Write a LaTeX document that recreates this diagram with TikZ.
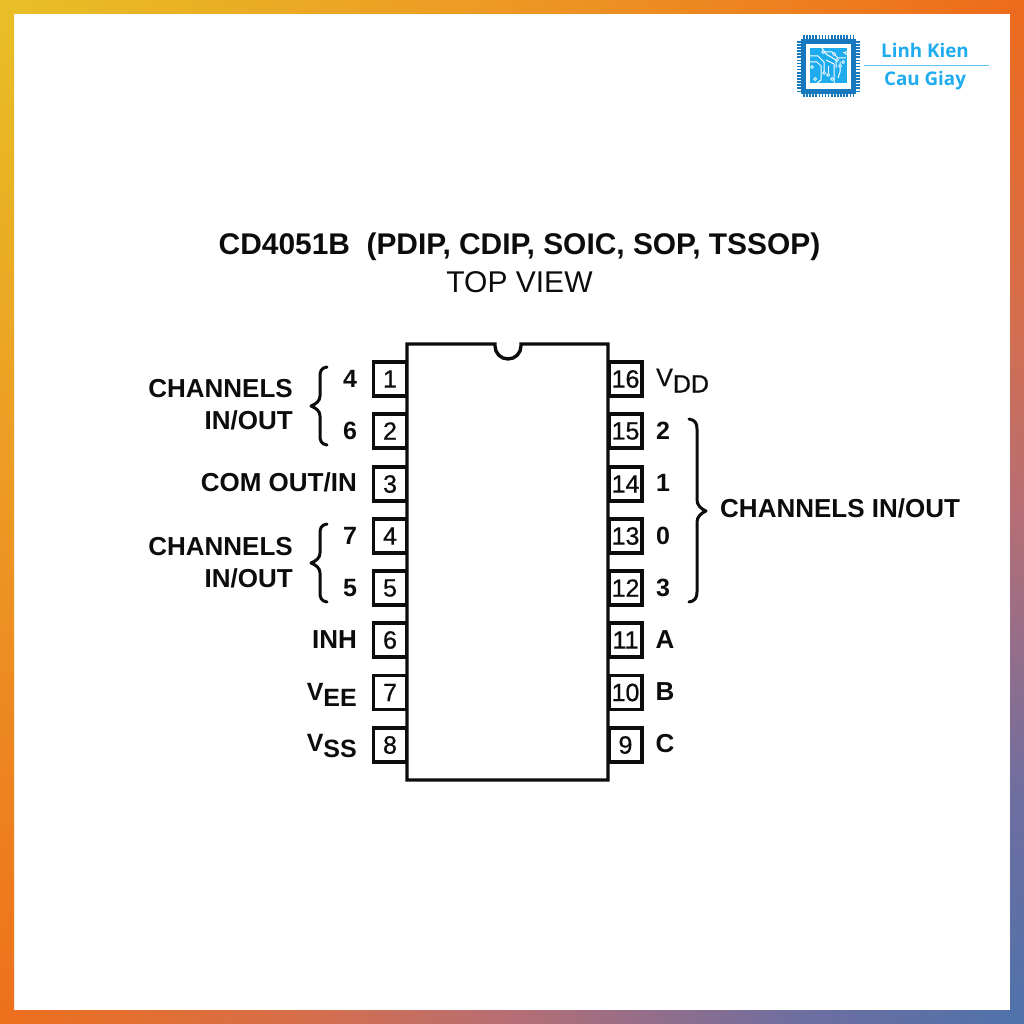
\documentclass[tikz,border=0pt]{standalone}
\usepackage{fontspec}
\setmainfont{Liberation Sans}
\newfontfamily\logofont{Open Sans}
\newfontfamily\midfont[FakeBold=0.6]{Liberation Sans}
\definecolor{logoblue}{RGB}{24,120,190}
\definecolor{logocyan}{RGB}{30,172,238}
\definecolor{inkc}{RGB}{12,12,12}
\pgfdeclarehorizontalshading{frametop}{100bp}{rgb(0bp)=(.91,.75,.15);rgb(25bp)=(.91,.75,.15);rgb(49.4bp)=(.93,.60,.14);rgb(75bp)=(.93,.42,.11);rgb(100bp)=(.93,.42,.11)}
\pgfdeclareverticalshading{frameleft}{100bp}{rgb(0bp)=(.93,.44,.11);rgb(25bp)=(.93,.44,.11);rgb(50.6bp)=(.93,.60,.14);rgb(75bp)=(.91,.75,.15);rgb(100bp)=(.91,.75,.15)}
\pgfdeclareverticalshading{frameright}{100bp}{rgb(0bp)=(.31,.45,.67);rgb(25bp)=(.31,.45,.67);rgb(35.9bp)=(.43,.43,.63);rgb(50.6bp)=(.725,.43,.45);rgb(60.35bp)=(.84,.43,.29);rgb(75bp)=(.93,.42,.11);rgb(100bp)=(.93,.42,.11)}
\pgfdeclarehorizontalshading{framebottom}{100bp}{rgb(0bp)=(.93,.44,.11);rgb(25bp)=(.93,.44,.11);rgb(39.6bp)=(.84,.43,.29);rgb(49.4bp)=(.725,.43,.45);rgb(64.1bp)=(.43,.43,.63);rgb(75bp)=(.31,.45,.67);rgb(100bp)=(.31,.45,.67)}
\tikzset{
  x=1pt,y=-1pt,
  pinbox/.style={draw=inkc,line width=3.6pt,fill=white,minimum width=33pt,minimum height=34pt,inner sep=0pt,
    font=\midfont\fontsize{25}{25}\selectfont,text=inkc},
  lab/.style={inner sep=0pt,font=\bfseries\fontsize{26}{26}\selectfont,text=inkc},
  labr/.style={lab,anchor=base east},
  labl/.style={lab,anchor=base west},
  labc/.style={lab,anchor=base},
  numlab/.style={inner sep=0pt,anchor=base,font=\bfseries\fontsize{25}{25}\selectfont,text=inkc},
  bracel/.style={draw=inkc,line width=3pt,line cap=round,line join=round},
  trace/.style={draw=white,line width=1pt},
  dotc/.style={draw=white,fill=logocyan,line width=.7pt},
}
\newcommand{\subtxt}[1]{\raisebox{-6.5pt}{#1}}
\begin{document}
\begin{tikzpicture}
\useasboundingbox (0,0) rectangle (1024,1024);
% gradient frame
\shade[shading=frametop] (0,0) rectangle (1024,14);
\shade[shading=frameleft] (0,0) rectangle (14,1024);
\shade[shading=framebottom] (0,1010) rectangle (1024,1024);
\shade[shading=frameright] (1010,0) rectangle (1024,1024);
% logo
\draw[logoblue,line width=3.5pt,dash pattern=on 1.6pt off 1.5pt] (803,37) -- (854,37);
\draw[logoblue,line width=3.5pt,dash pattern=on 1.6pt off 1.5pt] (803,95) -- (854,95);
\draw[logoblue,line width=3.5pt,dash pattern=on 1.6pt off 1.5pt] (799,41) -- (799,92);
\draw[logoblue,line width=3.5pt,dash pattern=on 1.6pt off 1.5pt] (858,41) -- (858,92);
\draw[logoblue,line width=4.5pt] (803.5,41.5) rectangle (853.5,91.5);
\fill[logocyan] (810,48) rectangle (847,83);
\draw[trace] (810,56) -- (818,56) -- (824,62) -- (824,72);
\draw[trace] (810,62) -- (817,62) -- (821,66) -- (821,80) -- (817,83);
\draw[trace] (822,52) -- (832,52) -- (838,58) -- (846,58);
\draw[trace] (822,48) -- (826,54) -- (836,60) -- (836,68);
\draw[trace] (826,60) -- (834,64) -- (834,83);
\draw[trace] (828,66) -- (828,74);
\draw[trace] (840,62) -- (840,72) -- (838,78);
\draw[trace] (843,53) -- (846,53);
\foreach \p/\q in {823/52,834/54,846/53,837/60,843/62,812/67,824/73,828/75,832/79,815/79,840/66}
  \draw[dotc] (\p,\q) circle (1.5pt);
\node[inner sep=0pt,anchor=base,text=logocyan,font=\logofont\bfseries\fontsize{18.8}{18.8}\selectfont] (logo1) at (925,58) {Linh Kien};
\node[inner sep=0pt,anchor=base,text=logocyan,font=\logofont\bfseries\fontsize{18.8}{18.8}\selectfont] (logo2) at (925,86) {Cau Giay};
\draw[logocyan!70!white,line width=.9pt] (864,65) -- (989,65);
% title
\node[labc,font=\bfseries\fontsize{29.9}{30}\selectfont] (title) at (519.5,254.5) {CD4051B\ \ (PDIP, CDIP, SOIC, SOP, TSSOP)};
\node[inner sep=0pt,anchor=base,text=inkc,font=\fontsize{30}{30}\selectfont] (top) at (519.5,292) {TOP VIEW};
% pins
\foreach \n/\yy in {1/379,2/431,3/484,4/536,5/588,6/640,7/692.5,8/745}
  \node[pinbox] (p\n) at (390,\yy) {\n};
\foreach \n/\yy in {16/379,15/431,14/484,13/536,12/588,11/640,10/692.5,9/745}
  \node[pinbox] (p\n) at (625.5,\yy) {\n};
% body
\draw[inkc,line width=3.4pt,fill=white,line join=miter] (407,344) -- (495,344) -- (495,346) arc[start angle=180,end angle=0,radius=13] -- (521,344) -- (608,344) -- (608,780) -- (407,780) -- cycle;
% braces
\draw[bracel] (327,367) .. controls (321,368) and (320,371) .. (320,377) -- (320,396) .. controls (320,401) and (316,404) .. (311,406)
  .. controls (316,408) and (320,411) .. (320,416) -- (320,435) .. controls (320,441) and (321,444) .. (327,445);
\draw[bracel] (327,524) .. controls (321,525) and (320,528) .. (320,534) -- (320,553) .. controls (320,558) and (316,561) .. (311,563)
  .. controls (316,565) and (320,568) .. (320,573) -- (320,592) .. controls (320,598) and (321,601) .. (327,602);
\draw[bracel] (689,419) .. controls (695,420) and (697,423) .. (697,429) -- (697,500) .. controls (697,505) and (701,509) .. (706,511)
  .. controls (701,513) and (697,517) .. (697,522) -- (697,592) .. controls (697,598) and (695,601) .. (689,602);
% left labels
\node[labr] (c1) at (293,397) {CHANNELS};
\node[labr] (c2) at (293,429) {IN/OUT};
\node[labr] (c3) at (357,491) {COM OUT/IN};
\node[labr] (c4) at (293,555) {CHANNELS};
\node[labr] (c5) at (293,587) {IN/OUT};
\node[labr] (inh) at (357,648) {INH};
\node[labr,font=\bfseries\fontsize{25}{25}\selectfont] (vee) at (357,700) {V\subtxt{EE}};
\node[labr,font=\bfseries\fontsize{25}{25}\selectfont] (vss) at (357,751) {V\subtxt{SS}};
\node[numlab] (n4) at (350,387) {4};
\node[numlab] (n6) at (350,439) {6};
\node[numlab] (n7) at (350,544) {7};
\node[numlab] (n5) at (350,596) {5};
% right labels
\node[labl,font=\midfont\fontsize{25}{25}\selectfont] (vdd) at (656,386) {V\subtxt{DD}};
\node[numlab] (n2) at (663,439) {2};
\node[numlab] (n1) at (663,491) {1};
\node[numlab] (n0) at (663,544) {0};
\node[numlab] (n3) at (663,596) {3};
\node[labc] (a) at (665,648) {A};
\node[labc] (b) at (665,700) {B};
\node[labc] (c) at (665,752) {C};
\node[labl] (ch) at (720,517) {CHANNELS IN/OUT};
\end{tikzpicture}
\end{document}
